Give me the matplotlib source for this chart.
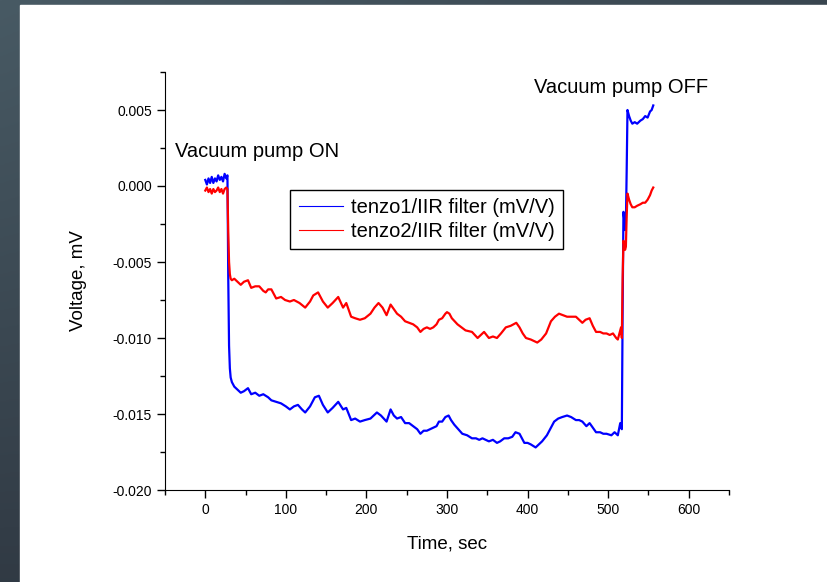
import numpy as np
import matplotlib
matplotlib.use('Agg')
import matplotlib.pyplot as plt
from matplotlib.ticker import MultipleLocator, FormatStrFormatter

plt.rcParams['font.family'] = ['Liberation Sans', 'DejaVu Sans']
plt.rcParams['axes.unicode_minus'] = False

# tenzo1 (blue)
t1 = [0, 2, 4, 6, 8, 10, 12, 14, 16, 18, 20, 22, 24, 26, 27.5, 28.5, 29.5, 30.5, 31.5, 33,
      36, 40, 44, 48, 53, 57, 62, 67, 72, 78, 82, 88, 94, 100, 105, 110, 115, 120, 124, 130,
      136, 141, 146, 152, 158, 165, 171, 175, 181, 186, 192, 198, 205, 209, 213, 218, 225, 230,
      234, 238, 243, 248, 253, 258, 263, 267, 271, 275, 279, 283, 287, 290, 294, 298, 302, 305,
      309, 314, 319, 325, 331, 336, 340, 344, 348, 352, 357, 362, 366, 371, 376, 381, 385, 390,
      396, 400, 404, 410, 414, 418, 424, 428, 433, 438, 443, 449, 454, 460, 464, 468, 473, 477,
      481, 485, 490, 494, 498, 504, 508, 512, 515, 517, 518, 519, 520, 521, 522, 523, 524, 526,
      528, 530, 533, 536, 540, 543, 546, 549, 552, 554, 556]
v1 = [0.0004, 0.0001, 0.0005, 0.0002, 0.0006, 0.0002, 0.0005, 0.0003, 0.0007, 0.0004, 0.0006,
      0.0003, 0.0008, 0.0005, 0.0007, -0.0060, -0.0105, -0.0120, -0.0126, -0.0129,
      -0.0132, -0.0134, -0.0136, -0.0135, -0.0133, -0.0137, -0.0136, -0.0138, -0.0137, -0.0139,
      -0.0141, -0.0142, -0.0143, -0.0145, -0.0147, -0.0145, -0.0144, -0.0147, -0.0149, -0.0145,
      -0.0139, -0.0138, -0.0144, -0.0149, -0.0146, -0.0142, -0.0147, -0.0146, -0.0154, -0.0153,
      -0.0155, -0.0154, -0.0153, -0.0151, -0.0149, -0.0151, -0.0155, -0.0147, -0.0151, -0.0153,
      -0.0152, -0.0156, -0.0156, -0.0158, -0.0160, -0.0163, -0.0161, -0.0161, -0.0160, -0.0159,
      -0.0158, -0.0155, -0.0155, -0.0152, -0.0151, -0.0154, -0.0157, -0.0160, -0.0163, -0.0164,
      -0.0166, -0.0166, -0.0167, -0.0166, -0.0167, -0.0168, -0.0167, -0.0169, -0.0168, -0.0166,
      -0.0166, -0.0165, -0.0162, -0.0163, -0.0169, -0.0169, -0.0170, -0.0172, -0.0170, -0.0168,
      -0.0164, -0.0160, -0.0155, -0.0153, -0.0152, -0.0151, -0.0152, -0.0154, -0.0154, -0.0155,
      -0.0158, -0.0156, -0.0159, -0.0162, -0.0162, -0.0163, -0.0163, -0.0164, -0.0162, -0.0164,
      -0.0156, -0.0160, -0.0080, -0.0017, -0.0022, -0.0029, -0.0025, 0.0010, 0.0050, 0.0046,
      0.0043, 0.0041, 0.0042, 0.0041, 0.0043, 0.0044, 0.0046, 0.0045, 0.0049, 0.0050, 0.0053]

# tenzo2 (red)
t2 = [0, 2, 4, 6, 8, 10, 12, 14, 16, 18, 20, 22, 24, 26, 27.5, 28.5, 29.5, 30.5, 31.5, 33,
      36, 40, 44, 48, 53, 57, 62, 67, 72, 75, 78, 82, 88, 94, 99, 105, 110, 117, 124, 130,
      134, 140, 146, 152, 158, 165, 171, 175, 181, 186, 192, 198, 205, 210, 215, 220, 225, 230,
      234, 238, 243, 248, 253, 258, 263, 267, 271, 275, 279, 283, 287, 290, 294, 298, 300, 303,
      306, 313, 318, 323, 331, 338, 342, 346, 352, 357, 362, 367, 373, 379, 386, 390, 394, 398,
      404, 408, 412, 417, 423, 429, 434, 439, 444, 449, 454, 460, 464, 468, 472, 477, 481, 485,
      490, 494, 498, 502, 506, 510, 512, 515, 516, 517, 518, 519, 520, 521, 522, 523, 524, 526,
      528, 530, 533, 536, 540, 543, 546, 549, 552, 554, 556]
v2 = [-0.0003, -0.0001, -0.0004, -0.0002, -0.0005, -0.0002, -0.0004, -0.0003, -0.0001, -0.0004,
      -0.0002, -0.0005, -0.0002, -0.0001, -0.0002, -0.0030, -0.0050, -0.0058, -0.0061, -0.0062,
      -0.0061, -0.0063, -0.0065, -0.0063, -0.0062, -0.0067, -0.0066, -0.0066, -0.0069, -0.0070,
      -0.0068, -0.0068, -0.0074, -0.0073, -0.0075, -0.0076, -0.0075, -0.0077, -0.0080, -0.0076,
      -0.0072, -0.0070, -0.0076, -0.0080, -0.0077, -0.0073, -0.0080, -0.0077, -0.0086, -0.0087,
      -0.0088, -0.0087, -0.0084, -0.0080, -0.0077, -0.0080, -0.0085, -0.0078, -0.0081, -0.0084,
      -0.0086, -0.0089, -0.0090, -0.0091, -0.0093, -0.0096, -0.0094, -0.0093, -0.0094, -0.0093,
      -0.0091, -0.0088, -0.0087, -0.0084, -0.0083, -0.0084, -0.0087, -0.0091, -0.0093, -0.0095,
      -0.0096, -0.0100, -0.0098, -0.0096, -0.0100, -0.0099, -0.0100, -0.0097, -0.0093, -0.0092,
      -0.0090, -0.0093, -0.0097, -0.0100, -0.0101, -0.0102, -0.0103, -0.0101, -0.0097, -0.0089,
      -0.0086, -0.0084, -0.0085, -0.0086, -0.0086, -0.0086, -0.0088, -0.0090, -0.0088, -0.0087,
      -0.0092, -0.0096, -0.0096, -0.0097, -0.0097, -0.0098, -0.0097, -0.0100, -0.0101, -0.0095,
      -0.0093, -0.0100, -0.0060, -0.0036, -0.0039, -0.0042, -0.0040, -0.0020, -0.0005, -0.0009,
      -0.0012, -0.0014, -0.0014, -0.0013, -0.0012, -0.0011, -0.0011, -0.0009, -0.0006, -0.0003,
      -0.0001]

labels = ['tenzo1/IIR filter (mV/V)', 'tenzo2/IIR filter (mV/V)']

W, H = 827, 582
fig = plt.figure(figsize=(W / 100, H / 100), dpi=100)

# dark slide frame behind the white page
bg = fig.add_axes([0, 0, 1, 1], zorder=-10)
yy, xx = np.mgrid[0:1:200j, 0:1:200j]
shade = 0.55 * yy + 0.35 * xx * (1 - yy)
c_top = np.array([0x48, 0x5a, 0x64]) / 255
c_bot = np.array([0x1e, 0x20, 0x2a]) / 255
img = c_top[None, None, :] * (1 - shade[..., None]) + c_bot[None, None, :] * shade[..., None]
bg.imshow(img, extent=[0, 1, 0, 1], aspect='auto')
bg.add_patch(plt.Rectangle((20 / W, 0), 1, 1 - 5 / H, color='white'))
bg.set_xlim(0, 1)
bg.set_ylim(0, 1)
bg.axis('off')

ax = fig.add_axes([165 / W, 1 - 490 / H, (729 - 165) / W, (490 - 72) / H])
ax.patch.set_alpha(0)
ax.plot(t1, v1, color='#0000ff', lw=1.6, label=labels[0])
ax.plot(t2, v2, color='#ff0000', lw=1.6, label=labels[1])

ax.set_xlim(-50, 650)
ax.set_ylim(-0.020, 0.0075)
ax.xaxis.set_major_locator(MultipleLocator(100))
ax.xaxis.set_minor_locator(MultipleLocator(50))
ax.yaxis.set_major_locator(MultipleLocator(0.005))
ax.yaxis.set_minor_locator(MultipleLocator(0.0025))
ax.yaxis.set_major_formatter(FormatStrFormatter('%.3f'))
for s in ['top', 'right']:
    ax.spines[s].set_visible(False)
ax.tick_params(which='major', direction='out', length=6, width=1, labelsize=10)
ax.tick_params(which='minor', direction='out', length=3.5, width=1)

ax.set_xlabel('Time, sec', fontsize=13.5, labelpad=13)
ax.set_ylabel('Voltage, mV', fontsize=13.5, labelpad=18)

ax.text(-37, 0.0023, 'Vacuum pump ON', fontsize=14.5, va='center', ha='left')
ax.text(408, 0.0065, 'Vacuum pump OFF', fontsize=14.5, va='center', ha='left')

leg = ax.legend(loc='upper left', bbox_to_anchor=(0.222, 0.718), fontsize=14.5,
                frameon=True, fancybox=False, edgecolor='black', framealpha=1,
                handlelength=2.2, handletextpad=0.4, borderpad=0.42, labelspacing=0.22,
                borderaxespad=0)
leg.get_frame().set_linewidth(1)
for h in leg.get_lines():
    h.set_linewidth(0.8)

fig.savefig('out.png', dpi=100)
